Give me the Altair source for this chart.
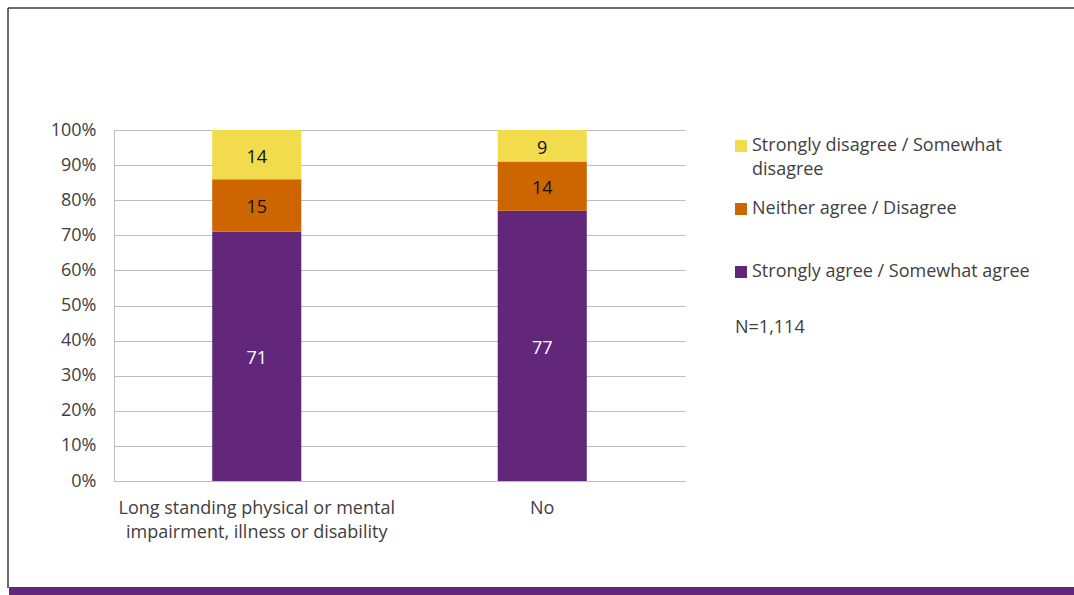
import altair as alt
import pandas as pd

# ---- data ----
groups = ["Long standing physical or mental impairment, illness or disability", "No"]
group_lines = [["Long standing physical or mental", "impairment, illness or disability"], ["No"]]
responses = ["Strongly disagree / Somewhat disagree", "Neither agree / Disagree", "Strongly agree / Somewhat agree"]
legend_lines = [["Strongly disagree / Somewhat", "disagree"], ["Neither agree / Disagree", ""], ["Strongly agree / Somewhat agree", ""]]
colors = ["#F2DC4E", "#CD6600", "#62267B"]
agree = [71, 77]
neither = [15, 14]
disagree = [14, 9]
y_ticks = list(range(0, 101, 10))
note = "N=1,114"

FONT = "Open Sans"
FS = 18
TXT = "#404040"
GRID = "#BDBDBD"

rows = []
for i, g in enumerate(groups):
    for order, (resp, vals) in enumerate([(responses[2], agree), (responses[1], neither), (responses[0], disagree)]):
        rows.append({"group": g, "response": resp, "value": vals[i], "order": order})
df = pd.DataFrame(rows)


def js_list(lines):
    return "[" + ", ".join("'" + s + "'" for s in lines) + "]"


x_label_expr = "datum.label == 'No' ? 'No' : " + js_list(group_lines[0])
leg_expr = " : ".join(
    f"datum.label == '{r}' ? {js_list(l)}" for r, l in zip(responses[:-1], legend_lines[:-1])
) + " : " + js_list(legend_lines[-1])

base = alt.Chart(df)

x_enc = alt.X(
    "group:N",
    sort=groups,
    scale=alt.Scale(paddingInner=0.688, paddingOuter=0.344),
    axis=alt.Axis(
        title=None, labelAngle=0, labelExpr=x_label_expr, ticks=False,
        domainColor=GRID, labelPadding=18, labelLineHeight=24,
        labelFont=FONT, labelFontSize=FS, labelColor=TXT, labelLimit=400,
    ),
)

y_axis = alt.Axis(
    title=None, values=y_ticks, labelExpr="datum.value + '%'", ticks=False,
    grid=True, gridColor=GRID, domainColor=GRID, labelPadding=18, labelOverlap=False,
    labelFont=FONT, labelFontSize=FS, labelColor=TXT,
)

bars = base.mark_bar().encode(
    x=x_enc,
    y=alt.Y("value:Q", stack="zero", scale=alt.Scale(domain=[0, 100]), axis=y_axis),
    color=alt.Color(
        "response:N",
        scale=alt.Scale(domain=responses, range=colors),
        legend=alt.Legend(
            title=None, orient="none", legendX=618, legendY=7,
            symbolType="square", symbolSize=144, symbolStrokeWidth=0, symbolOpacity=1,
            labelFont=FONT, labelFontSize=FS, labelColor=TXT, labelLimit=500,
            labelExpr=leg_expr, rowPadding=21, labelOffset=2, padding=0,
        ),
    ),
    order=alt.Order("order:Q"),
)

labels = base.transform_stack(
    stack="value", groupby=["group"], sort=[alt.SortField("order")], as_=["y0", "y1"]
).transform_calculate(mid="(datum.y0 + datum.y1) / 2").mark_text(
    font=FONT, fontSize=FS, baseline="middle", dy=3
).encode(
    x=alt.X("group:N", sort=groups),
    y=alt.Y("mid:Q", scale=alt.Scale(domain=[0, 100]), axis=y_axis),
    text="value:Q",
    color=alt.condition("datum.order == 0", alt.value("white"), alt.value("#111111")),
)

one = pd.DataFrame({"note": [note]})
note_text = alt.Chart(one).mark_text(
    font=FONT, fontSize=FS, color=TXT, align="left", baseline="alphabetic"
).encode(x=alt.value(621), y=alt.value(203), text="note:N")

frame_left = alt.Chart(one).mark_rule(color="#3a3a3a", strokeWidth=1.5).encode(
    x=alt.value(-106), y=alt.value(-122), y2=alt.value(458)
)
frame_top = alt.Chart(one).mark_rule(color="#3a3a3a", strokeWidth=1.5).encode(
    x=alt.value(-106), x2=alt.value(960), y=alt.value(-122)
)
band = alt.Chart(one).mark_rect(color="#62267B").encode(
    x=alt.value(-105), x2=alt.value(960), y=alt.value(457), y2=alt.value(466)
)

chart = alt.layer(bars, labels, note_text, frame_left, frame_top, band).properties(
    width=571, height=351,
    padding={"left": 114, "top": 130, "right": 389, "bottom": 114},
    autosize=alt.AutoSizeParams(type="none"),
    background="white",
).configure(
    style={"guide-label": {"lineHeight": 24}}
).configure_view(stroke=None)

chart.save("out.html", embed_options={"renderer": "svg", "actions": False})
